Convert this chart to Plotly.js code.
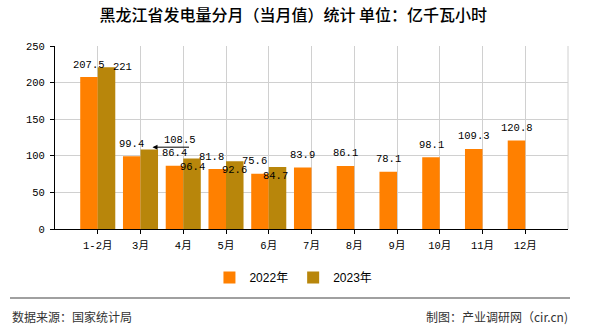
<!DOCTYPE html>
<html>
<head>
<meta charset="utf-8">
<script src="https://cdn.plot.ly/plotly-3.0.1.min.js"></script>
<style>html,body{margin:0;padding:0;background:#fff;}#chart{width:590px;height:330px;}</style>
</head>
<body>
<div id="chart"></div>
<script>
// ---- data ----
const categories = ['1-2月','3月','4月','5月','6月','7月','8月','9月','10月','11月','12月'];
const values2022 = [207.5, 99.4, 86.4, 81.8, 75.6, 83.9, 86.1, 78.1, 98.1, 109.3, 120.8];
const values2023 = [221, 108.5, 96.4, 92.6, 84.7, null, null, null, null, null, null];
const seriesNames = ['2022年', '2023年'];
const titleText = '黑龙江省发电量分月（当月值）统计 单位：亿千瓦小时';
const sourceText = '数据来源：国家统计局';
const makerText = '制图：产业调研网（cir.cn)';

// ---- styles (label placement offsets in px, not data) ----
const colors = ['#FF8000', '#B8860B'];
const barHalf = 8.75;
const dx22 = [0, 0, 0, -6, -6, 0, 0, 0, 0, 0, 0];
const dy22 = [12.5, 12.5, 12.5, 12.5, 12.5, 12.5, 12.5, 12.5, 12.5, 12.5, 12.5];
const dx23 = [16, 31, 0, 0, -2];
const dy23 = [0, 10, -8.7, -8.6, -8.5];

const monoFont = {family: 'Liberation Mono, Noto Sans CJK SC, monospace', size: 10.5, color: '#000'};
const tickFont = {family: 'Liberation Mono, Noto Sans CJK SC, monospace', size: 10.5, color: '#000'};

const traces = [
  {type: 'bar', name: seriesNames[0], x: categories, y: values2022,
   marker: {color: colors[0]}, hoverinfo: 'x+y'},
  {type: 'bar', name: seriesNames[1], x: categories, y: values2023,
   marker: {color: colors[1]}, hoverinfo: 'x+y'}
];

const annotations = [];
values2022.forEach((v, i) => {
  if (v == null) return;
  annotations.push({x: categories[i], y: v, xref: 'x', yref: 'y', text: String(v),
    showarrow: false, xanchor: 'center', yanchor: 'middle',
    xshift: -barHalf + dx22[i], yshift: dy22[i], font: monoFont});
});
values2023.forEach((v, i) => {
  if (v == null) return;
  annotations.push({x: categories[i], y: v, xref: 'x', yref: 'y', text: String(v),
    showarrow: false, xanchor: 'center', yanchor: 'middle',
    xshift: barHalf + dx23[i], yshift: dy23[i], font: monoFont});
});
// leader arrow for the 3月 2023 label
annotations.push({x: categories[1], y: values2023[1], xref: 'x', yref: 'y', text: ' ',
  showarrow: true, ax: 38, ay: 0, arrowhead: 2, arrowsize: 1, arrowwidth: 1, arrowcolor: '#000',
  xshift: 12, yshift: 2.4, font: {size: 1}});

// footer
annotations.push({xref: 'paper', yref: 'paper', x: -0.0877, y: -0.4768, xanchor: 'left', yanchor: 'middle',
  text: sourceText, showarrow: false, font: {family: 'Noto Sans CJK SC, sans-serif', size: 12, color: '#333'}});
annotations.push({xref: 'paper', yref: 'paper', x: 1.0039, y: -0.4768, xanchor: 'right', yanchor: 'middle',
  text: makerText, showarrow: false, font: {family: 'Noto Sans CJK SC, sans-serif', size: 12, color: '#333'}});

const layout = {
  width: 590, height: 330,
  margin: {l: 55, r: 22, t: 46, b: 100.7},
  paper_bgcolor: '#fff', plot_bgcolor: '#fff',
  title: {text: titleText, xref: 'container', yref: 'container', x: 0.497, y: 0.9545,
    xanchor: 'center', yanchor: 'middle',
    font: {family: 'Noto Sans CJK SC, sans-serif', size: 16, color: '#000', weight: 500}},
  barmode: 'group', bargap: 0.18, bargroupgap: 0,
  xaxis: {type: 'category', range: [-1, 11], showgrid: true, gridcolor: '#d0d0d0', gridwidth: 1,
    showline: true, linecolor: '#000', linewidth: 1, ticks: 'outside', ticklen: 4, tickcolor: '#000',
    tickfont: tickFont, ticklabelstandoff: 2, fixedrange: true},
  yaxis: {range: [0, 250], dtick: 50, tick0: 0, showgrid: true, gridcolor: '#d0d0d0', gridwidth: 1,
    zeroline: false, showline: true, linecolor: '#000', linewidth: 1, ticks: 'outside', ticklen: 4,
    tickcolor: '#000', tickfont: tickFont, ticklabelstandoff: 3, fixedrange: true},
  showlegend: true,
  legend: {orientation: 'h', xref: 'container', yref: 'container', x: 0.355, y: 0.159,
    xanchor: 'left', yanchor: 'middle', bgcolor: 'rgba(0,0,0,0)',
    font: {family: 'Liberation Sans, Noto Sans CJK SC, sans-serif', size: 12, color: '#000'}},
  shapes: [
    {type: 'line', xref: 'paper', yref: 'paper', x0: 1, x1: 1, y0: 0, y1: 1,
     line: {color: '#d0d0d0', width: 1}},
    {type: 'line', xref: 'paper', yref: 'paper', x0: -0.0877, x1: 1.0039, y0: -0.3764, y1: -0.3764,
     line: {color: '#808080', width: 1.5}}
  ],
  annotations: annotations
};

Plotly.newPlot('chart', traces, layout, {displayModeBar: false, staticPlot: true});
</script>
</body>
</html>
